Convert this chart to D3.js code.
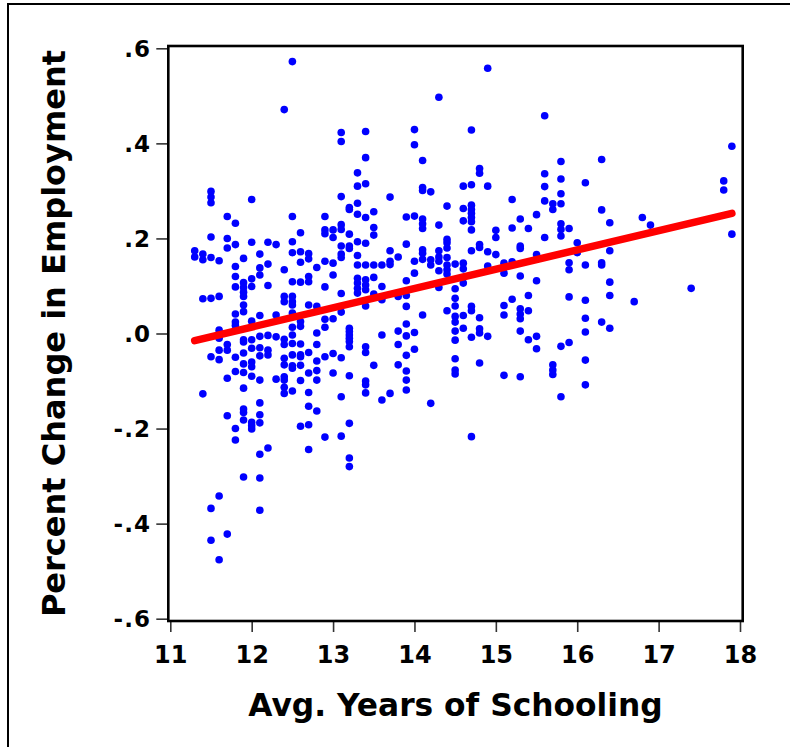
<!DOCTYPE html>
<html><head><meta charset="utf-8">
<script src="https://cdn.jsdelivr.net/npm/d3@7"></script>
<style>html,body{margin:0;padding:0;background:#fff;} svg{display:block;}</style>
</head><body>
<svg id="chart" width="790" height="747"></svg>
<script>
// Average years of schooling (x) grouped into columns, with the % change in employment (y) of each point
const schoolingLevels = [11.3, 11.4, 11.5, 11.6, 11.7, 11.8, 11.9, 12.0, 12.1, 12.2, 12.3, 12.4, 12.5, 12.6, 12.7, 12.8, 12.9, 13.0, 13.1, 13.2, 13.3, 13.4, 13.5, 13.6, 13.7, 13.8, 13.9, 14.0, 14.1, 14.2, 14.3, 14.4, 14.5, 14.6, 14.7, 14.8, 14.9, 15.0, 15.1, 15.2, 15.3, 15.4, 15.5, 15.6, 15.7, 15.8, 15.9, 16.0, 16.1, 16.3, 16.4, 16.7, 16.8, 16.9, 17.4, 17.8, 17.9];
const empChangeByLevel = [
  [0.174, 0.161],
  [0.167, 0.155, 0.073, -0.127],
  [0.299, 0.287, 0.275, 0.203, 0.160, 0.074, -0.049, -0.368, -0.435],
  [0.153, 0.078, 0.007, -0.010, -0.035, -0.055, -0.342, -0.476],
  [0.246, 0.200, 0.180, -0.023, -0.035, -0.094, -0.173, -0.422],
  [0.232, 0.187, 0.141, 0.120, 0.098, 0.041, 0.024, 0.017, -0.050, -0.080, -0.200, -0.224],
  [0.158, 0.107, 0.097, 0.087, 0.078, 0.060, 0.046, -0.013, -0.018, -0.041, -0.064, -0.082, -0.115, -0.159, -0.166, -0.182, -0.302],
  [0.282, 0.192, 0.115, 0.099, 0.026, -0.013, -0.031, -0.060, -0.070, -0.090, -0.187, -0.194, -0.201],
  [0.167, 0.138, 0.123, 0.038, -0.006, -0.030, -0.047, -0.098, -0.146, -0.171, -0.188, -0.254, -0.304, -0.372],
  [0.192, 0.146, 0.101, -0.004, -0.035, -0.045, -0.241],
  [0.187, 0.039, -0.007, -0.096],
  [0.471, 0.134, 0.078, 0.067, -0.012, -0.023, -0.052, -0.066, -0.091, -0.098, -0.113, -0.126],
  [0.572, 0.246, 0.193, 0.170, 0.109, 0.078, 0.067, 0.060, 0.043, 0.013, -0.003, -0.021, -0.045, -0.068, -0.073, -0.121],
  [0.212, 0.172, 0.150, 0.108, 0.025, 0.015, -0.022, -0.045, -0.049, -0.067, -0.099, -0.195],
  [0.168, 0.157, 0.120, 0.109, 0.060, -0.040, -0.083, -0.124, -0.153, -0.192, -0.244],
  [0.139, 0.057, 0.001, -0.023, -0.058, -0.078, -0.098, -0.163],
  [0.246, 0.218, 0.210, 0.152, 0.098, 0.030, 0.013, -0.049, -0.218],
  [0.218, 0.202, 0.148, 0.123, 0.031, -0.042, -0.083],
  [0.423, 0.404, 0.288, 0.229, 0.219, 0.184, 0.167, 0.160, 0.084, 0.045, -0.051, -0.133, -0.216],
  [0.265, 0.261, 0.209, 0.184, 0.179, 0.011, 0.004, -0.003, -0.010, -0.017, -0.028, -0.089, -0.189, -0.262, -0.280],
  [0.338, 0.310, 0.274, 0.251, 0.193, 0.164, 0.144, 0.116, 0.106, 0.095, 0.085],
  [0.425, 0.370, 0.315, 0.244, 0.190, 0.144, 0.113, 0.102, 0.092, 0.058, -0.028, -0.040, -0.100, -0.108, -0.125],
  [0.256, 0.223, 0.207, 0.144, 0.118, 0.083, -0.067],
  [0.144, 0.099, 0.071, -0.003, -0.140],
  [0.287, 0.174, 0.152, 0.145, -0.126],
  [0.161, 0.078, 0.005, -0.023, -0.066],
  [0.245, 0.188, 0.111, 0.080, 0.057, 0.020, -0.005, -0.046, -0.079, -0.098, -0.119],
  [0.429, 0.397, 0.247, 0.152, 0.127, 0.002, -0.033],
  [0.364, 0.307, 0.301, 0.241, 0.231, 0.221, 0.176, 0.169, 0.156, 0.039],
  [0.298, 0.155, 0.144, -0.147],
  [0.497, 0.228, 0.174, 0.161, 0.152, 0.132, 0.097],
  [0.268, 0.198, 0.191, 0.180, 0.160, 0.144, 0.134, 0.125, 0.048],
  [0.146, 0.094, 0.074, 0.058, 0.036, 0.024, 0.005, -0.014, -0.053, -0.077, -0.085],
  [0.310, 0.263, 0.237, 0.148, 0.136, 0.106, 0.038, 0.011],
  [0.428, 0.313, 0.270, 0.261, 0.253, 0.244, 0.235, 0.218, 0.174, 0.057, 0.048, -0.008, -0.217],
  [0.347, 0.337, 0.187, 0.181, 0.033, 0.010, 0.001, -0.062],
  [0.558, 0.310, 0.172, 0.142, -0.006],
  [0.217, 0.202, 0.166],
  [0.148, 0.127, 0.059, 0.039, -0.088],
  [0.282, 0.222, 0.151, 0.072],
  [0.241, 0.184, 0.179, 0.121, 0.052, 0.041, 0.031, 0.005, -0.091],
  [0.221, 0.080, 0.048, -0.013],
  [0.250, 0.166, 0.111, -0.006, -0.032],
  [0.458, 0.336, 0.309, 0.279, 0.202],
  [0.273, 0.261, -0.066, -0.077, -0.086],
  [0.362, 0.325, 0.294, 0.273, 0.231, 0.219, 0.205, -0.027, -0.133],
  [0.221, 0.149, 0.134, 0.077, -0.019],
  [0.191, 0.170],
  [0.317, 0.144, 0.070, 0.032, 0.003, -0.056, -0.108],
  [0.366, 0.260, 0.149, 0.144, 0.024],
  [0.233, 0.174, 0.108, 0.080, 0.011],
  [0.067],
  [0.244],
  [0.228],
  [0.095],
  [0.321, 0.302],
  [0.394, 0.209]
];
// least-squares fit line
const fitIntercept = -0.4733;
const fitSlope = 0.04057;

const xTicks = [11, 12, 13, 14, 15, 16, 17, 18];
const xTickLabels = ["11", "12", "13", "14", "15", "16", "17", "18"];
const yTicks = [-0.6, -0.4, -0.2, 0, 0.2, 0.4, 0.6];
const yTickLabels = ["-.6", "-.4", "-.2", ".0", ".2", ".4", ".6"];
const xTitle = "Avg. Years of Schooling";
const yTitle = "Percent Change in Employment";

const FONT = "'DejaVu Sans', Verdana, sans-serif";
const svg = d3.select("#chart");

const x = d3.scaleLinear().domain([11, 18]).range([170.3, 740]);
const y = d3.scaleLinear().domain([-0.6, 0.6]).range([618.7, 48.3]);

const frameL = x(11) - 2, frameR = x(18) + 2.7;
const frameT = y(0.6) - 2.3, frameB = y(-0.6) + 2.3;

// outer border (runs off the right and bottom edges)
svg.append("rect").attr("x", 8).attr("y", 4).attr("width", 900).attr("height", 900)
  .attr("fill", "none").attr("stroke", "#000").attr("stroke-width", 2);

// points
const pts = schoolingLevels.flatMap((s, i) => empChangeByLevel[i].map(v => ({ s, v })));
svg.append("g").selectAll("circle").data(pts).join("circle")
  .attr("cx", d => x(d.s)).attr("cy", d => y(d.v)).attr("r", 3.8).attr("fill", "#0000ff");

// fit line
const xr = d3.extent(schoolingLevels);
svg.append("line")
  .attr("x1", x(xr[0])).attr("y1", y(fitIntercept + fitSlope * xr[0]))
  .attr("x2", x(xr[1])).attr("y2", y(fitIntercept + fitSlope * xr[1]))
  .attr("stroke", "#ff0000").attr("stroke-width", 7.5).attr("stroke-linecap", "round");

// axes
const yAxis = svg.append("g").attr("transform", `translate(${frameL},0)`)
  .call(d3.axisLeft(y).tickValues(yTicks).tickFormat((d, i) => yTickLabels[i]).tickSize(12).tickPadding(5));
yAxis.select(".domain").remove();
yAxis.selectAll(".tick line").attr("stroke", "#333").attr("stroke-width", 1.6);
yAxis.selectAll(".tick text").attr("font-family", FONT).attr("font-weight", "bold")
  .attr("font-size", 23).attr("letter-spacing", 1.2).attr("fill", "#000").attr("dy", "0.36em");

const xAxis = svg.append("g").attr("transform", `translate(0,${frameB + 1})`)
  .call(d3.axisBottom(x).tickValues(xTicks).tickFormat((d, i) => xTickLabels[i]).tickSize(10));
xAxis.select(".domain").remove();
xAxis.selectAll(".tick line").attr("stroke", "#333").attr("stroke-width", 1.6);
xAxis.selectAll(".tick text").attr("font-family", FONT).attr("font-weight", "bold")
  .attr("font-size", 24).attr("fill", "#000").attr("y", 41).attr("dy", 0);

// plot frame
svg.append("rect").attr("x", frameL).attr("y", frameT)
  .attr("width", frameR - frameL).attr("height", frameB - frameT)
  .attr("fill", "none").attr("stroke", "#000").attr("stroke-width", 2.6);

// titles
svg.append("text").attr("x", (frameL + frameR) / 2 + 0).attr("y", 716)
  .attr("text-anchor", "middle").attr("font-family", FONT).attr("font-weight", "bold")
  .attr("font-size", 31.3).attr("fill", "#000").text(xTitle);
svg.append("text").attr("transform", `translate(65,${(frameT + frameB) / 2}) rotate(-90)`)
  .attr("text-anchor", "middle").attr("font-family", FONT).attr("font-weight", "bold")
  .attr("font-size", 32).attr("fill", "#000").text(yTitle);
</script>
</body></html>
